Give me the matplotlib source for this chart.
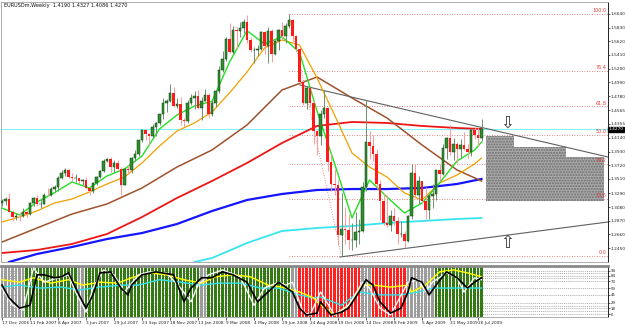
import numpy as np
import matplotlib.pyplot as plt
from matplotlib.transforms import blended_transform_factory

# weekly EURUSDm candles, week 0 = 17 Dec 2006
closes = [1.3170, 1.3200, 1.3000, 1.2920, 1.2950, 1.2940, 1.3000, 1.2980, 1.3140, 1.3220,
          1.3120, 1.3120, 1.3270, 1.3260, 1.3360, 1.3380, 1.3520, 1.3600, 1.3650, 1.3540,
          1.3520, 1.3520, 1.3480, 1.3490, 1.3370, 1.3330, 1.3450, 1.3540, 1.3630, 1.3790,
          1.3810, 1.3690, 1.3760, 1.3670, 1.3420, 1.3660, 1.3650, 1.3830, 1.3890, 1.4100,
          1.4260, 1.4200, 1.4170, 1.4300, 1.4370, 1.4500, 1.4680, 1.4710, 1.4820, 1.4630,
          1.4660, 1.4420, 1.4400, 1.4670, 1.4750, 1.4780, 1.4600, 1.4710, 1.4800, 1.4510,
          1.4680, 1.4860, 1.5180, 1.5350, 1.5660, 1.5450, 1.5790, 1.5770, 1.5820, 1.5920,
          1.5640, 1.5480, 1.5490, 1.5500, 1.5760, 1.5540, 1.5780, 1.5420, 1.5620, 1.5790,
          1.5700, 1.5860, 1.5950, 1.5700, 1.5500, 1.5000, 1.4680, 1.4900, 1.4670, 1.4240,
          1.4170, 1.4500, 1.4600, 1.3770, 1.3430, 1.3410, 1.2650, 1.2740, 1.2730, 1.2570,
          1.2580, 1.2690, 1.2720, 1.3390, 1.4080, 1.4020, 1.3900, 1.3430, 1.3170, 1.2840,
          1.2800, 1.2940, 1.2860, 1.2660, 1.2670, 1.2560, 1.2940, 1.3600, 1.3260, 1.3480,
          1.3170, 1.3030, 1.3250, 1.3280, 1.3640, 1.3580, 1.3990, 1.4140, 1.3930, 1.4040,
          1.3970, 1.4030, 1.3970, 1.3930, 1.4260, 1.4180, 1.4140, 1.4270]
highs = [1.3210, 1.3230, 1.3300, 1.3030, 1.2990, 1.3010, 1.3060, 1.3040, 1.3150, 1.3230,
         1.3270, 1.3200, 1.3290, 1.3370, 1.3380, 1.3410, 1.3560, 1.3640, 1.3680, 1.3660,
         1.3600, 1.3580, 1.3520, 1.3510, 1.3540, 1.3390, 1.3470, 1.3550, 1.3640, 1.3810,
         1.3830, 1.3850, 1.3800, 1.3800, 1.3690, 1.3670, 1.3730, 1.3850, 1.3950, 1.4110,
         1.4280, 1.4280, 1.4210, 1.4350, 1.4380, 1.4510, 1.4750, 1.4730, 1.4970, 1.4920,
         1.4750, 1.4770, 1.4440, 1.4720, 1.4810, 1.4860, 1.4880, 1.4760, 1.4890, 1.4820,
         1.4720, 1.4880, 1.5240, 1.5470, 1.5680, 1.5900, 1.5850, 1.5840, 1.5910, 1.5960,
         1.6019, 1.5680, 1.5530, 1.5560, 1.5780, 1.5780, 1.5840, 1.5800, 1.5640, 1.5800,
         1.5920, 1.5900, 1.6038, 1.5960, 1.5710, 1.5530, 1.5020, 1.4940, 1.4900, 1.4700,
         1.4260, 1.4560, 1.4870, 1.4620, 1.3900, 1.3670, 1.3490, 1.3300, 1.3080, 1.2970,
         1.2830, 1.3000, 1.2900, 1.3460, 1.4720, 1.4240, 1.4180, 1.3970, 1.3500, 1.3300,
         1.3270, 1.3030, 1.3060, 1.2920, 1.2870, 1.2720, 1.2960, 1.3740, 1.3740, 1.3550,
         1.3480, 1.3380, 1.3290, 1.3430, 1.3650, 1.3740, 1.4050, 1.4160, 1.4340, 1.4140,
         1.4080, 1.4120, 1.4230, 1.4040, 1.4280, 1.4300, 1.4300, 1.4430]
lows = [1.3100, 1.3110, 1.3000, 1.2870, 1.2880, 1.2870, 1.2920, 1.2930, 1.2960, 1.3100,
        1.3100, 1.3070, 1.3120, 1.3250, 1.3250, 1.3310, 1.3330, 1.3510, 1.3560, 1.3520,
        1.3480, 1.3470, 1.3430, 1.3420, 1.3360, 1.3260, 1.3300, 1.3420, 1.3520, 1.3620,
        1.3770, 1.3620, 1.3620, 1.3650, 1.3260, 1.3410, 1.3580, 1.3600, 1.3790, 1.3860,
        1.4080, 1.4100, 1.4030, 1.4130, 1.4170, 1.4340, 1.4430, 1.4530, 1.4690, 1.4620,
        1.4590, 1.4340, 1.4300, 1.4370, 1.4640, 1.4580, 1.4580, 1.4410, 1.4700, 1.4440,
        1.4480, 1.4620, 1.4820, 1.5150, 1.5320, 1.5440, 1.5430, 1.5500, 1.5690, 1.5740,
        1.5600, 1.5450, 1.5290, 1.5390, 1.5490, 1.5430, 1.5280, 1.5300, 1.5410, 1.5490,
        1.5640, 1.5600, 1.5830, 1.5630, 1.5450, 1.4980, 1.4640, 1.4580, 1.4610, 1.4040,
        1.3880, 1.4030, 1.4440, 1.3630, 1.3330, 1.3260, 1.2500, 1.2330, 1.2520, 1.2430,
        1.2420, 1.2470, 1.2520, 1.2700, 1.3330, 1.3820, 1.3780, 1.3360, 1.2880, 1.2800,
        1.2770, 1.2720, 1.2800, 1.2510, 1.2620, 1.2457, 1.2550, 1.2900, 1.3220, 1.3120,
        1.3120, 1.2890, 1.2890, 1.3070, 1.3190, 1.3480, 1.3570, 1.3810, 1.3880, 1.3800,
        1.3750, 1.3830, 1.3960, 1.3830, 1.3860, 1.4120, 1.4010, 1.4086]
opens = [1.3140] + closes[:-1]
weeks = np.arange(len(closes))
last_price = 1.4270

# moving averages
fast_weeks = [0, 5, 10, 15, 20, 25, 30, 35, 40, 45, 50, 55, 60, 65, 70, 75, 80, 85, 90, 95,
              100, 105, 110, 115, 120, 125, 130, 135, 137]
ma_green = [1.3065, 1.2958, 1.3157, 1.3300, 1.3464, 1.3372, 1.3556, 1.3663, 1.3862, 1.4276,
            1.4490, 1.4628, 1.4700, 1.5300, 1.5780, 1.5580, 1.5690, 1.5450, 1.4550, 1.3750,
            1.2912, 1.3494, 1.3234, 1.2989, 1.3142, 1.3448, 1.3785, 1.3950, 1.4076]
ma_orange = [1.2851, 1.2927, 1.3020, 1.3142, 1.3203, 1.3311, 1.3433, 1.3540, 1.3755, 1.4015,
             1.4245, 1.4368, 1.4536, 1.4827, 1.5149, 1.5517, 1.5639, 1.5563, 1.5057, 1.4490,
             1.3908, 1.3693, 1.3540, 1.3295, 1.3188, 1.3448, 1.3571, 1.3740, 1.3831]
slow_weeks = [0, 10, 20, 30, 40, 50, 60, 70, 80, 90, 100, 110, 120, 130, 137]
ma_brown = [1.2544, 1.2759, 1.2973, 1.3127, 1.3372, 1.3693, 1.3954, 1.4337, 1.4873, 1.5072,
            1.4751, 1.4444, 1.4031, 1.3648, 1.3479]
ma_red = [1.2376, 1.2422, 1.2514, 1.2667, 1.2927, 1.3219, 1.3479, 1.3755, 1.4061, 1.4322,
          1.4383, 1.4368, 1.4322, 1.4291, 1.4276]
blue_weeks = [2, 10, 20, 30, 40, 50, 60, 70, 80, 90, 100, 110, 120, 130, 137]
ma_blue = [1.2238, 1.2361, 1.2468, 1.2590, 1.2682, 1.2820, 1.3019, 1.3188, 1.3280, 1.3341,
           1.3356, 1.3356, 1.3372, 1.3433, 1.3510]
cyan_weeks = [55, 60, 70, 80, 90, 100, 110, 120, 130, 137]
ma_cyan = [1.2238, 1.2299, 1.2529, 1.2713, 1.2759, 1.2790, 1.2836, 1.2866, 1.2897, 1.2912]

# fibonacci retracement Jul 2008 high -> Oct 2008 low
fib_levels = [100.0, 76.4, 61.8, 50.0, 38.2, 23.6, 0.0]
fib_high, fib_low = 1.6038, 1.2330
fib_high_week, fib_low_week = 82, 97

# trendlines and projected zone
upper_trend_weeks = [85.1, 173.1]
upper_trend_prices = [1.4950, 1.3847]
lower_trend_weeks = [96.6, 173.1]
lower_trend_prices = [1.2315, 1.2851]
zone_edges = [138.3, 146.3, 161.1, 172.0]
zone_tops = [1.4168, 1.4000, 1.3847]
zone_bottom = 1.3173
arrow_week = 144.3
arrow_down_price = 1.4380
arrow_up_price = 1.2530

price_ticks = [1.6040, 1.5830, 1.5620, 1.5410, 1.5200, 1.4990, 1.4780, 1.4565, 1.4355,
               1.4140, 1.3930, 1.3720, 1.3510, 1.3290, 1.3080, 1.2870, 1.2660, 1.2450]

date_weeks = list(range(0, 137, 8))
date_labels = ["17 Dec 2006", "11 Feb 2007", "8 Apr 2007", "3 Jun 2007", "29 Jul 2007",
               "23 Sep 2007", "18 Nov 2007", "13 Jan 2008", "9 Mar 2008", "4 May 2008",
               "29 Jun 2008", "24 Aug 2008", "19 Oct 2008", "14 Dec 2008", "8 Feb 2009",
               "5 Apr 2009", "31 May 2009", "26 Jul 2009"]

# oscillator panel
regime_starts = [0, 7, 22, 24, 57, 59, 83, 85, 103, 106, 116, 124]
regime_ends = [7, 22, 24, 57, 59, 83, 85, 103, 106, 116, 124, 138]
regime_kind = ["gray", "green", "gray", "green", "gray", "green", "gray", "red", "gray",
               "red", "gray", "green"]
osc_black_weeks = [0, 2, 5, 8, 10, 12, 15, 17, 19, 22, 24, 26, 28, 31, 34, 36, 37, 40, 44, 49,
                   52, 54, 57, 60, 63, 66, 70, 73, 76, 79, 81, 83, 85, 87, 90, 91, 94, 97, 99,
                   102, 104, 106, 108, 111, 114, 116, 117, 120, 122, 124, 127, 130, 133, 135, 137]
osc_black = [65, 39, 18, 24, 86, 86, 80, 82, 90, 45, 18, 45, 90, 92, 59, 45, 65, 86, 92, 86,
             31, 59, 80, 80, 92, 86, 71, 31, 51, 71, 61, 51, 18, 4, 8, 31, 4, 10, 18,
             51, 76, 65, 31, 8, 18, 51, 80, 71, 45, 65, 92, 80, 59, 71, 80]
osc_white_weeks = [0, 3, 6, 9, 12, 16, 19, 21, 24, 26, 29, 32, 35, 39, 42, 47, 51, 54, 56, 59,
                   63, 68, 72, 75, 79, 81, 83, 86, 88, 91, 95, 99, 103, 105, 108, 111, 116,
                   119, 121, 123, 127, 130, 132, 135, 137]
osc_white = [59, 24, 14, 100, 71, 80, 86, 51, 10, 59, 96, 86, 51, 86, 92, 90, 59, 31, 65, 86,
             96, 82, 24, 59, 71, 65, 71, 10, 4, 51, 4, 24, 71, 59, 18, 4, 71,
             76, 51, 71, 90, 80, 51, 80, 76]
osc_yellow_weeks = [0, 5, 9, 14, 19, 23, 28, 33, 37, 42, 47, 52, 57, 61, 66, 71, 76, 80, 85,
                    89, 90, 95, 99, 103, 106, 111, 116, 117, 121, 125, 129, 133, 137]
osc_yellow = [76, 71, 80, 69, 76, 65, 71, 69, 80, 90, 86, 76, 69, 82, 86, 82, 65, 61, 51,
              39, 31, 4, 24, 65, 65, 61, 65, 51, 65, 92, 96, 90, 82]
osc_cyan_weeks = [0, 5, 11, 17, 22, 28, 34, 39, 45, 51, 57, 62, 68, 74, 79, 85, 89, 91, 97,
                  102, 108, 114, 119, 123, 129, 137]
osc_cyan = [61, 65, 59, 61, 55, 61, 65, 65, 76, 71, 65, 69, 69, 59, 59, 45, 39, 41, 24,
            51, 45, 45, 51, 59, 59, 59]
osc_levels = [94, 90, 84, 80, 73, 59, 45, 29, 22, 18, 12, 6]
osc_labelled = [94, 84, 73, 59, 45, 29, 18, 6]

W, H = 625, 327
fig = plt.figure(figsize=(W / 100, H / 100), dpi=100)
fig.patch.set_facecolor("white")
xlim = (-0.29, 173.14)

ax = fig.add_axes([1 / W, 1 - 262 / H, 607 / W, 260 / H])
ax.set_xlim(*xlim)
ax.set_ylim(1.2238, 1.6221)

# moving averages (behind candles)
ax.plot(cyan_weeks, ma_cyan, color="#38e4f0", lw=1.3, zorder=2)
ax.plot(blue_weeks, ma_blue, color="#1515ff", lw=1.6, zorder=2)
ax.plot(slow_weeks, ma_red, color="#ee1515", lw=1.3, zorder=2)
ax.plot(slow_weeks, ma_brown, color="#a0522d", lw=1.1, zorder=2)
ax.plot(fast_weeks, ma_orange, color="#f0a000", lw=0.9, zorder=4)
ax.plot(fast_weeks, ma_green, color="#22e022", lw=1.0, zorder=4)

# current price line
ax.axhline(last_price, color="#80f4f8", lw=0.8, zorder=1)

# fibonacci
fib_prices = [fib_low + lv / 100 * (fib_high - fib_low) for lv in fib_levels]
for lv, p in zip(fib_levels, fib_prices):
    ax.plot([fib_high_week, xlim[1]], [p, p], color="#e06060", lw=0.6, ls=(0, (1, 2)), zorder=1)
    ax.text(172.6, p + 0.001, "%.1f" % lv, color="#e04040", fontsize=3.5, ha="right", va="bottom")
ax.plot([fib_high_week, fib_low_week], [fib_high, fib_low], color="#e06060", lw=0.6,
        ls=(0, (1, 2)), zorder=1)

# projected zone
for x0, x1, top in zip(zone_edges[:-1], zone_edges[1:], zone_tops):
    ax.bar(x0, top - zone_bottom, bottom=zone_bottom, width=x1 - x0, align="edge",
           color="#a9a9a9", edgecolor="#6e6e6e", hatch="......", lw=0, zorder=1)

# trendlines
ax.plot(upper_trend_weeks, upper_trend_prices, color="#606060", lw=0.8, zorder=3)
ax.plot(lower_trend_weeks, lower_trend_prices, color="#606060", lw=0.8, zorder=3)
ax.text(arrow_week, arrow_down_price, "\u21e9", fontsize=12, ha="center", va="center", color="#333333")
ax.text(arrow_week, arrow_up_price, "\u21e7", fontsize=12, ha="center", va="center", color="#333333")

# candles
o = np.array(opens)
c = np.array(closes)
bull = c >= o
wick_col = np.where(bull, "#6f8f6f", "#ff9a9a")
ax.vlines(weeks, lows, highs, colors=wick_col, lw=0.7, zorder=5)
body_lo = np.minimum(o, c)
body_h = np.maximum(np.abs(c - o), 0.0008)
ax.bar(weeks[bull], body_h[bull], bottom=body_lo[bull], width=0.72, color="#2f8f2f",
       edgecolor="#0b3d0b", lw=0.35, zorder=6)
ax.bar(weeks[~bull], body_h[~bull], bottom=body_lo[~bull], width=0.72, color="#ff1a1a",
       lw=0, zorder=6)

ax.yaxis.tick_right()
ax.set_yticks(price_ticks)
ax.set_yticklabels(["%.4f" % p for p in price_ticks], fontsize=3.1)
ax.tick_params(axis="y", length=1.5, width=0.5, pad=0.6, colors="#222222")
ax.set_xticks([])
for s in ["left", "top", "bottom"]:
    ax.spines[s].set_color("#a0a0a0")
    ax.spines[s].set_linewidth(0.6)
ax.spines["right"].set_color("#222222")
ax.spines["right"].set_linewidth(0.7)

tr = blended_transform_factory(ax.transAxes, ax.transData)
ax.text(1.0015, last_price, "1.4270", transform=tr, fontsize=3.1, color="white", va="center",
        ha="left", bbox=dict(boxstyle="square,pad=0.1", fc="black", ec="black"))

fig.text(4 / W, 1 - 6 / H, "EURUSDm,Weekly  1.4190 1.4327 1.4086 1.4270", fontsize=3.6,
         va="center", ha="left", color="#111111")

# oscillator panel
ax2 = fig.add_axes([1 / W, 1 - 317 / H, 607 / W, 51 / H])
ax2.set_xlim(*xlim)
ax2.set_ylim(0, 104)
palette = {"green": "#347a12", "red": "#ff2020", "gray": "#9c9c9c"}
bar_cols = []
for s, e, k in zip(regime_starts, regime_ends, regime_kind):
    bar_cols += [palette[k]] * (e - s)
ax2.bar(weeks, [104] * len(weeks), width=0.75, color=bar_cols[:len(weeks)], lw=0, zorder=2)
for lv in osc_levels:
    ax2.axhline(lv, color="#909090", lw=0.5, ls=(0, (1.5, 1.5)), zorder=1)
ax2.plot(osc_cyan_weeks, osc_cyan, color="#30e0e8", lw=1.0, zorder=3)
ax2.plot(osc_yellow_weeks, osc_yellow, color="#ffff00", lw=1.0, zorder=3)
ax2.plot(osc_white_weeks, osc_white, color="#f4f4f4", lw=1.0, zorder=4)
ax2.plot(osc_black_weeks, osc_black, color="#000000", lw=1.2, zorder=5)

ax2.yaxis.tick_right()
ax2.set_yticks(osc_labelled)
ax2.set_yticklabels([str(v) for v in osc_labelled], fontsize=2.8)
ax2.tick_params(axis="y", length=1.5, width=0.5, pad=0.6, colors="#222222")
ax2.set_xticks(date_weeks)
ax2.set_xticklabels(date_labels, fontsize=3.1, ha="left")
ax2.tick_params(axis="x", length=2, width=0.5, pad=1.2, colors="#222222")
for s in ["left", "bottom"]:
    ax2.spines[s].set_color("#a0a0a0")
    ax2.spines[s].set_linewidth(0.6)
ax2.spines["top"].set_color("#8a8a8a")
ax2.spines["top"].set_linewidth(2.0)
ax2.spines["right"].set_color("#222222")
ax2.spines["right"].set_linewidth(0.7)

fig.savefig("out.png", dpi=100)
